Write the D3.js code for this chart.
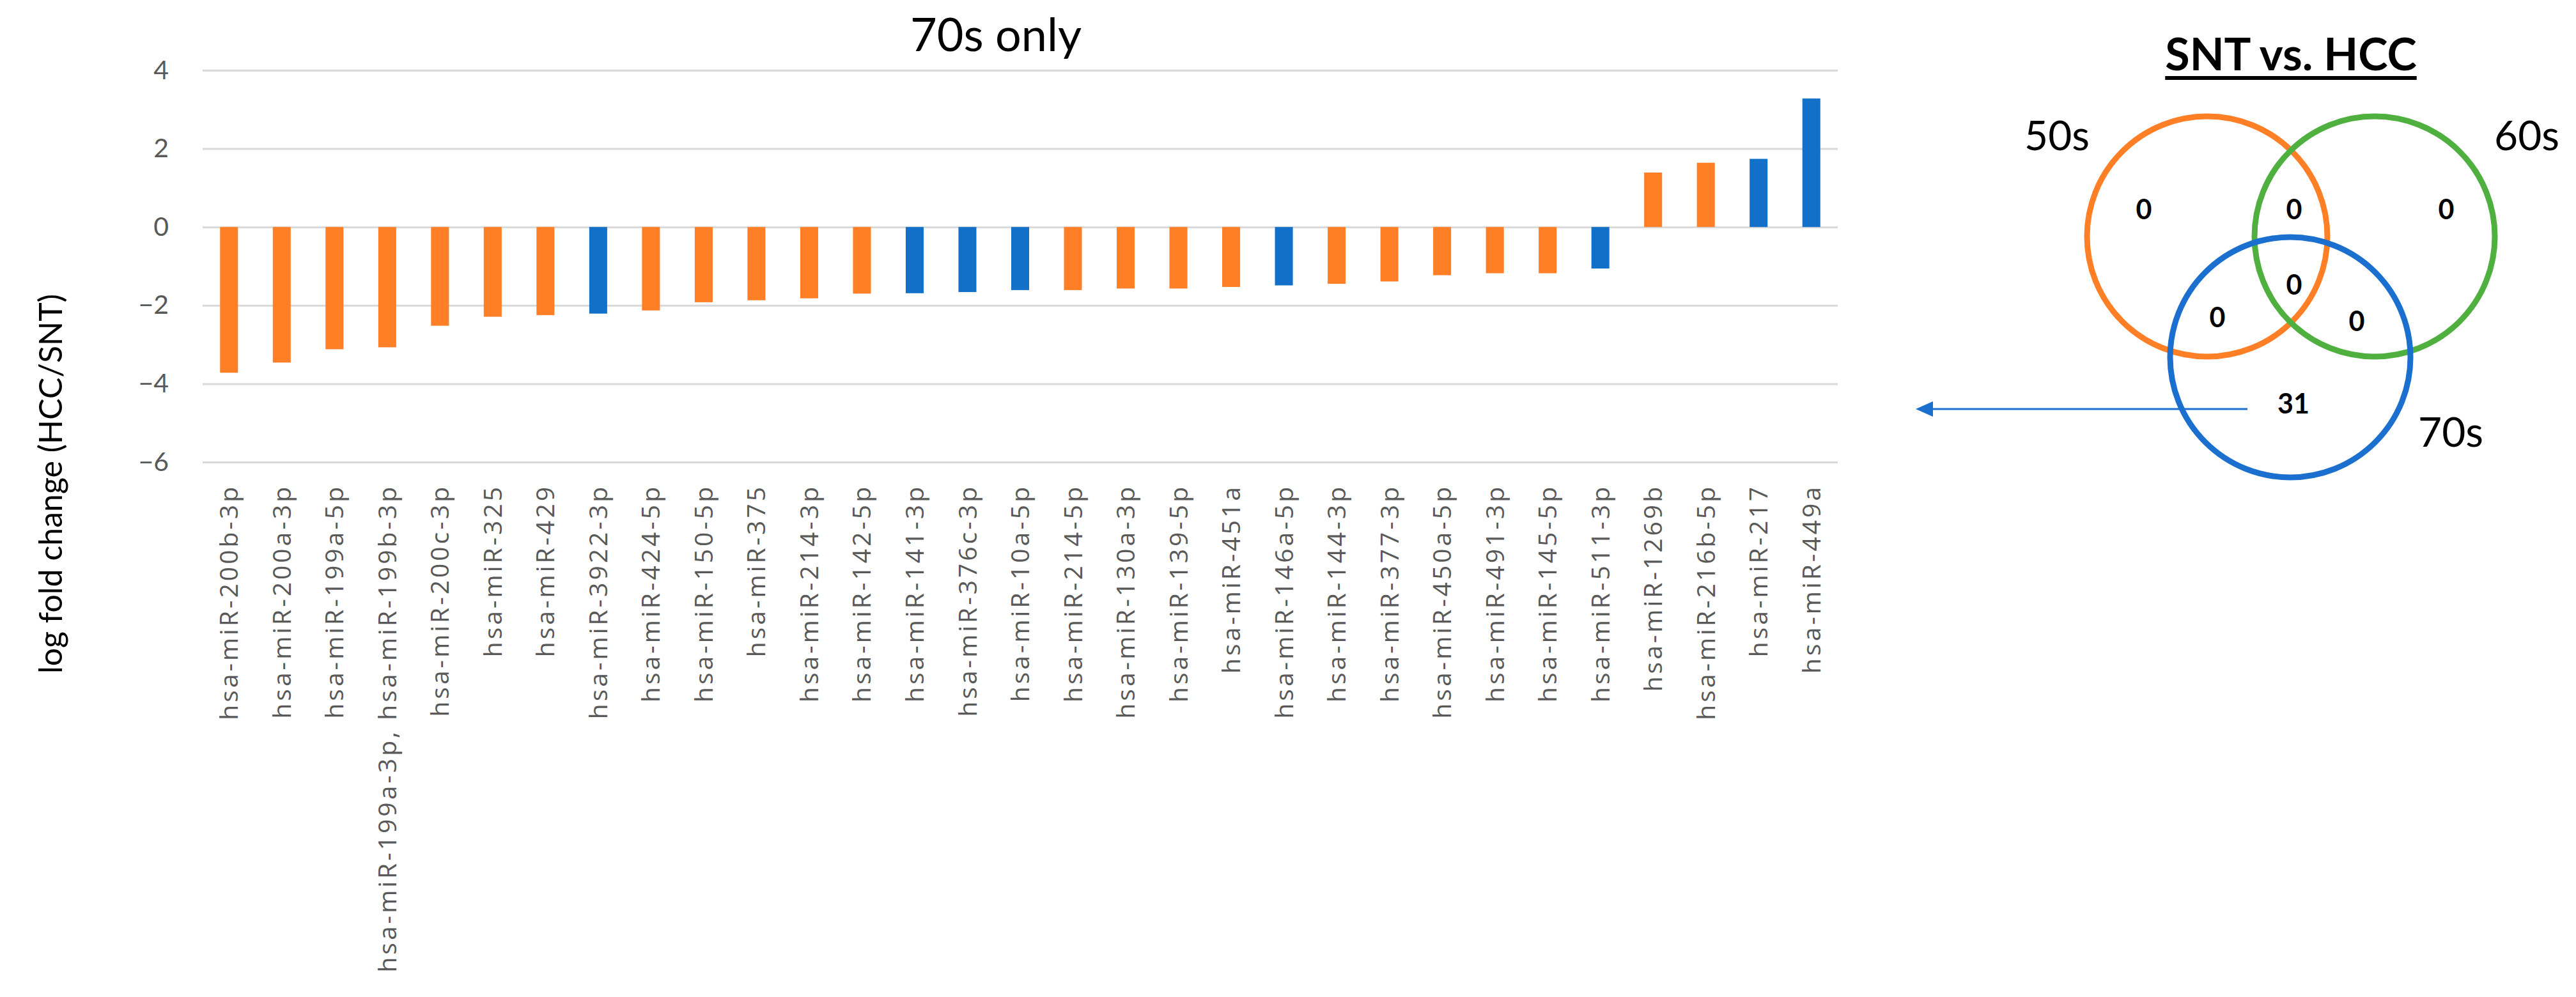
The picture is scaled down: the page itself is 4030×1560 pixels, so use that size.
<!DOCTYPE html>
<html>
<head>
<meta charset="utf-8">
<script src="https://cdn.jsdelivr.net/npm/d3@7"></script>
<style>
  html, body { margin: 0; padding: 0; background: #ffffff; }
  svg { display: block; }
</style>
</head>
<body>
<svg id="chart" width="4030" height="1560"></svg>
<script>
// ---------- DATA ----------
const categories = [
  "hsa-miR-200b-3p", "hsa-miR-200a-3p", "hsa-miR-199a-5p",
  "hsa-miR-199a-3p, hsa-miR-199b-3p", "hsa-miR-200c-3p", "hsa-miR-325",
  "hsa-miR-429", "hsa-miR-3922-3p", "hsa-miR-424-5p", "hsa-miR-150-5p",
  "hsa-miR-375", "hsa-miR-214-3p", "hsa-miR-142-5p", "hsa-miR-141-3p",
  "hsa-miR-376c-3p", "hsa-miR-10a-5p", "hsa-miR-214-5p", "hsa-miR-130a-3p",
  "hsa-miR-139-5p", "hsa-miR-451a", "hsa-miR-146a-5p", "hsa-miR-144-3p",
  "hsa-miR-377-3p", "hsa-miR-450a-5p", "hsa-miR-491-3p", "hsa-miR-145-5p",
  "hsa-miR-511-3p", "hsa-miR-1269b", "hsa-miR-216b-5p", "hsa-miR-217",
  "hsa-miR-449a"
];
const logFoldChange = [
  -3.72, -3.46, -3.12, -3.07, -2.52, -2.29, -2.25, -2.21, -2.13, -1.92,
  -1.87, -1.82, -1.70, -1.69, -1.66, -1.61, -1.61, -1.57, -1.57, -1.53,
  -1.49, -1.45, -1.39, -1.23, -1.18, -1.18, -1.06, 1.39, 1.64, 1.74, 3.28
];
// colour group of each bar (A = orange, B = blue)
const barGroup = [
  "A","A","A","A","A","A","A","B","A","A",
  "A","A","A","B","B","B","A","A","A","A",
  "B","A","A","A","A","A","B","A","A","B","B"
];
const yTicks = [-6, -4, -2, 0, 2, 4];
const chartTitle = "70s only";
const yAxisTitle = "log fold change (HCC/SNT)";

// Venn diagram
const vennTitle = "SNT vs. HCC";
const vennSets = ["50s", "60s", "70s"];
const vennRegions = ["50s", "50s&60s", "60s", "50s&60s&70s", "50s&70s", "60s&70s", "70s"];
const vennCounts = [0, 0, 0, 0, 0, 0, 31];

// ---------- STYLE ----------
const colors = { A: "#FF7F27", B: "#1370C9" };
const vennColors = ["#FF7F27", "#4FB040", "#1B6FCF"];

const svg = d3.select("#chart");
svg.append("rect").attr("width", 4030).attr("height", 1560).attr("fill", "#fff");

// ---------- BAR CHART ----------
const plot = { left: 317, right: 2875, top: 110, bottom: 723 };

const x = d3.scaleBand()
  .domain(categories)
  .range([plot.left, plot.right])
  .paddingInner(0.66)
  .paddingOuter(0.33);

const y = d3.scaleLinear()
  .domain([-6, 4])
  .range([plot.bottom, plot.top]);

// gridlines + tick labels
const yAxis = svg.append("g")
  .attr("transform", `translate(${plot.left},0)`)
  .call(d3.axisLeft(y)
    .tickValues(yTicks)
    .tickSize(-(plot.right - plot.left))
    .tickPadding(53)
    .tickFormat(d3.format("d")));
yAxis.select(".domain").remove();
yAxis.selectAll(".tick line").attr("stroke", "#D9D9D9").attr("stroke-width", 3);
yAxis.selectAll(".tick text")
  .attr("fill", "#595959")
  .style("font-family", "Lato, 'Open Sans', sans-serif")
  .style("font-size", "41px");

// bars
svg.append("g").selectAll("rect")
  .data(categories)
  .join("rect")
  .attr("x", d => x(d))
  .attr("width", x.bandwidth())
  .attr("y", (d, i) => y(Math.max(0, logFoldChange[i])))
  .attr("height", (d, i) => Math.abs(y(logFoldChange[i]) - y(0)))
  .attr("fill", (d, i) => colors[barGroup[i]]);

// category labels (rotated)
svg.append("g").selectAll("text")
  .data(categories)
  .join("text")
  .attr("transform", d => `translate(${x(d) + x.bandwidth() / 2},758) rotate(-90)`)
  .attr("text-anchor", "end")
  .attr("dy", "0.36em")
  .attr("fill", "#595959")
  .style("font-family", "'Open Sans', sans-serif")
  .style("font-size", "39px")
  .style("letter-spacing", "4px")
  .text(d => d);

// chart title
svg.append("text")
  .attr("x", 1558)
  .attr("y", 80)
  .attr("text-anchor", "middle")
  .attr("fill", "#000")
  .style("font-family", "Lato, sans-serif")
  .style("font-size", "72px")
  .text(chartTitle);

// y-axis title
svg.append("text")
  .attr("transform", "translate(79,757) rotate(-90)")
  .attr("text-anchor", "middle")
  .attr("dy", "0.35em")
  .attr("fill", "#000")
  .style("font-family", "Lato, sans-serif")
  .style("font-size", "50px")
  .text(yAxisTitle);

// ---------- VENN DIAGRAM ----------
const vr = 188;
const vennCenters = [[3453, 370], [3715, 370], [3583, 559]];

const vt = svg.append("text")
  .attr("x", 3584)
  .attr("y", 110)
  .attr("text-anchor", "middle")
  .attr("fill", "#000")
  .style("font-family", "Lato, sans-serif")
  .style("font-weight", "bold")
  .style("font-size", "70px")
  .text(vennTitle);
const vtb = vt.node().getBBox();
svg.append("rect")
  .attr("x", vtb.x)
  .attr("y", 119)
  .attr("width", vtb.width)
  .attr("height", 6)
  .attr("fill", "#000");

svg.append("g").selectAll("circle")
  .data(vennSets)
  .join("circle")
  .attr("cx", (d, i) => vennCenters[i][0])
  .attr("cy", (d, i) => vennCenters[i][1])
  .attr("r", vr)
  .attr("fill", "none")
  .attr("stroke", (d, i) => vennColors[i])
  .attr("stroke-width", 9);

// set labels
const setLabelPos = [[3218, 235], [3953, 235], [3834, 699]];
svg.append("g").selectAll("text")
  .data(vennSets)
  .join("text")
  .attr("x", (d, i) => setLabelPos[i][0])
  .attr("y", (d, i) => setLabelPos[i][1])
  .attr("text-anchor", "middle")
  .attr("fill", "#000")
  .style("font-family", "Lato, sans-serif")
  .style("font-size", "64px")
  .text(d => d);

// region counts
const regionPos = {
  "50s": [3354, 328], "50s&60s": [3589, 328], "60s": [3827, 328],
  "50s&60s&70s": [3589, 446], "50s&70s": [3469, 497], "60s&70s": [3687, 503],
  "70s": [3588, 632]
};
svg.append("g").selectAll("text")
  .data(vennRegions)
  .join("text")
  .attr("x", d => regionPos[d][0])
  .attr("y", d => regionPos[d][1])
  .attr("dy", "0.36em")
  .attr("text-anchor", "middle")
  .attr("fill", "#000")
  .style("font-family", "Lato, sans-serif")
  .style("font-weight", "bold")
  .style("font-size", "43px")
  .text((d, i) => vennCounts[i]);

// arrow from the "70s only" region toward the bar chart
svg.append("line")
  .attr("x1", 3516).attr("y1", 640)
  .attr("x2", 3024).attr("y2", 640)
  .attr("stroke", "#1B6FCF")
  .attr("stroke-width", 3);
svg.append("path")
  .attr("d", "M2997,640 L3024,628 L3024,652 Z")
  .attr("fill", "#1B6FCF");
</script>
</body>
</html>
